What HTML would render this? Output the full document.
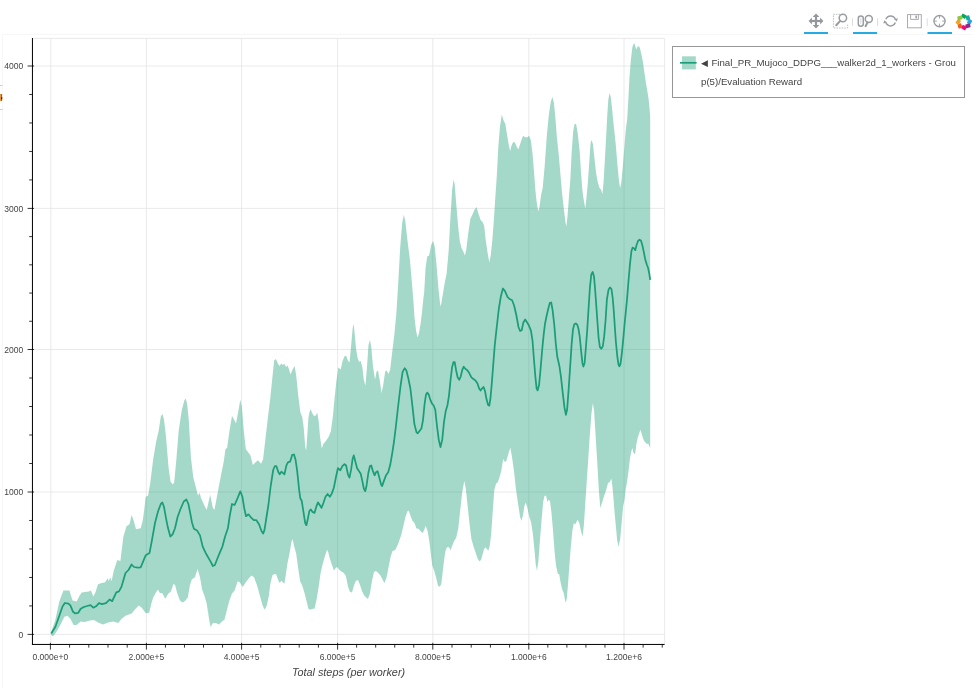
<!DOCTYPE html>
<html><head><meta charset="utf-8"><title>Evaluation Reward</title>
<style>
html,body{margin:0;padding:0;background:#fff;}
body{width:977px;height:688px;position:relative;overflow:hidden;font-family:"Liberation Sans",Arial,Helvetica,sans-serif;}
</style></head><body>
<svg width="977" height="688" viewBox="0 0 977 688" style="position:absolute;left:0;top:0;will-change:transform">
<path d="M50.80 38.4V644.4M146.40 38.4V644.4M241.60 38.4V644.4M337.60 38.4V644.4M432.80 38.4V644.4M528.80 38.4V644.4M624.00 38.4V644.4M32.4 634.40H664.6M32.4 492.00H664.6M32.4 349.50H664.6M32.4 208.40H664.6M32.4 66.00H664.6" stroke="#e5e5e5" stroke-width="0.8" fill="none"/>
<path d="M2.4 688V34.4H972" stroke="#f6f6f6" stroke-width="1" fill="none"/>
<polygon points="51.2,632.0 55.3,620.0 59.3,601.6 63.4,590.4 69.5,590.4 70.9,595.5 72.6,600.6 76.6,601.6 79.7,595.5 81.7,592.4 88.8,591.4 90.9,590.4 93.3,596.5 95.4,592.4 98.0,584.3 101.0,583.3 105.1,582.2 107.8,578.2 108.8,581.2 110.2,577.2 111.6,581.2 113.7,571.0 117.3,559.9 120.4,560.9 123.4,536.5 126.5,526.3 129.5,524.2 131.6,515.1 133.6,520.2 136.0,529.3 140.7,528.3 142.8,520.2 144.2,510.0 145.7,496.8 148.1,495.8 150.2,483.6 153.2,459.2 156.3,440.9 158.7,430.7 160.8,416.5 162.4,414.0 164.0,419.5 166.0,436.8 168.5,467.3 170.5,481.6 172.6,484.6 174.2,482.6 176.2,461.2 178.7,430.7 181.7,410.4 184.4,400.2 185.8,398.5 187.2,404.2 188.8,420.5 190.9,457.2 193.3,477.5 196.0,487.7 198.0,495.8 199.6,492.8 201.0,497.9 204.1,505.0 206.7,510.1 208.8,500.9 210.2,494.8 211.6,501.9 212.9,508.0 214.5,509.7 216.3,499.9 219.4,483.6 221.4,473.4 223.8,461.2 225.5,449.0 227.1,448.0 229.5,430.7 232.0,416.0 234.0,419.5 236.0,423.6 238.1,412.4 240.3,399.8 241.8,406.3 243.8,430.7 245.8,449.0 247.9,452.1 250.3,455.1 252.9,464.9 255.6,462.2 258.0,460.2 261.1,463.7 263.1,459.2 265.2,440.9 267.8,418.5 270.2,399.0 272.6,375.6 274.2,360.4 275.9,359.0 277.9,363.4 279.3,365.9 281.4,363.4 282.8,365.1 284.4,363.8 286.0,367.1 287.5,365.5 289.1,369.5 290.5,374.6 292.6,369.5 294.6,365.9 296.2,375.6 298.3,396.0 300.3,412.0 302.3,417.3 303.8,428.5 305.2,446.8 306.2,450.5 307.2,436.6 308.4,418.0 309.4,412.3 310.7,409.2 312.5,413.8 314.2,416.3 316.0,415.3 317.2,412.5 318.6,420.4 320.0,436.6 321.7,448.4 323.5,443.8 326.1,440.7 328.8,436.6 330.8,431.5 332.9,416.3 334.3,401.0 336.3,381.8 338.3,367.5 340.8,369.5 342.4,361.4 344.5,356.3 346.1,355.7 347.9,360.4 349.5,362.4 351.2,345.1 352.6,328.8 353.6,323.8 354.6,332.9 356.1,349.2 357.7,358.3 359.1,361.8 360.7,361.0 362.4,367.5 363.8,379.7 365.4,385.8 366.8,369.5 368.5,345.1 369.9,340.0 371.3,347.2 372.9,365.5 375.0,379.7 376.6,371.6 378.0,370.6 379.7,379.7 381.5,392.9 383.1,385.8 385.2,371.6 386.6,370.6 388.6,374.0 390.2,369.5 392.3,351.2 394.3,334.9 396.3,314.0 398.2,284.0 400.2,247.3 402.2,222.9 403.8,214.8 405.3,220.9 407.3,239.2 409.9,259.5 412.0,284.0 413.5,302.0 414.4,316.3 416.0,330.5 417.5,337.6 418.9,333.6 420.5,324.4 422.2,310.2 423.2,300.0 424.2,292.1 425.6,267.7 427.2,256.5 429.1,255.5 431.1,245.3 433.1,240.8 434.8,247.3 436.4,263.6 438.4,288.0 439.9,302.3 440.7,306.7 442.5,296.2 444.5,284.0 446.6,273.8 448.6,251.4 450.6,214.8 452.1,190.4 453.5,179.8 454.7,184.2 456.1,202.6 458.2,227.0 459.8,241.2 461.6,248.3 463.3,251.4 464.9,255.5 466.3,249.4 468.3,233.1 470.4,218.8 472.4,214.8 474.5,209.7 476.5,207.0 478.5,213.8 480.6,219.9 482.6,221.9 484.2,226.0 485.6,239.2 487.7,253.4 489.3,262.6 490.7,255.5 492.4,239.2 493.8,220.9 495.4,196.5 496.8,176.1 498.3,147.5 499.9,127.2 501.8,114.5 503.4,120.0 505.4,124.1 507.1,135.3 508.9,145.5 510.1,151.2 511.5,145.5 513.2,142.0 515.0,142.4 516.6,146.5 518.3,149.5 519.7,145.5 521.3,140.4 523.1,135.7 525.2,137.3 527.2,137.3 529.2,135.7 530.9,140.4 532.5,153.6 533.9,169.9 535.4,190.2 536.4,200.0 537.2,206.0 538.4,211.4 539.6,206.3 541.1,195.0 542.7,188.0 544.7,165.8 546.7,137.3 548.8,114.9 550.8,101.7 552.4,97.0 553.9,102.7 555.3,117.0 556.9,137.3 558.8,155.6 560.4,174.0 561.8,190.2 562.8,200.0 564.0,210.3 565.5,222.6 566.3,226.6 567.5,216.5 568.7,200.2 569.5,190.0 570.2,182.1 571.6,153.6 573.2,131.2 574.6,124.1 576.1,124.1 577.7,133.3 579.7,151.6 581.1,174.0 582.4,190.2 583.4,198.0 584.2,202.2 585.2,208.7 586.2,200.2 587.2,190.0 587.9,182.1 589.3,161.8 590.5,143.4 591.5,140.0 592.9,144.0 594.4,157.7 596.0,172.5 597.6,181.5 599.5,187.9 601.0,189.5 602.4,194.0 603.5,183.0 604.8,161.0 606.3,134.0 607.2,116.4 608.3,100.0 609.5,93.1 610.8,97.0 612.3,111.0 613.5,124.0 614.4,131.6 615.9,146.2 617.3,163.6 618.8,179.6 620.1,188.3 621.3,182.5 622.7,168.0 624.2,149.1 625.6,131.6 626.5,124.0 627.2,119.3 628.3,100.4 629.4,78.6 630.9,59.7 632.3,47.4 633.5,44.0 634.5,43.4 635.2,45.9 636.3,49.5 637.4,46.9 638.6,45.9 639.9,48.1 641.3,53.9 642.8,61.2 644.2,71.3 645.7,81.5 647.2,90.2 648.6,99.0 649.5,107.7 650.2,116.4 650.2,448.0 649.2,445.8 648.1,443.6 647.1,444.0 646.0,442.9 644.5,441.4 643.1,438.5 641.6,433.4 640.4,429.8 639.1,433.4 637.7,437.8 636.5,443.6 635.3,453.1 634.3,454.1 633.3,452.3 632.4,448.0 631.4,450.9 630.0,458.1 628.5,471.2 627.1,481.4 625.6,490.1 624.4,500.5 623.1,506.0 621.7,522.2 620.2,538.7 618.6,546.8 617.2,540.5 615.8,525.5 614.7,514.0 613.7,501.0 612.6,488.0 611.4,478.5 609.8,482.0 608.0,483.0 606.0,490.5 604.0,496.2 601.9,503.0 600.3,508.0 598.9,491.0 597.7,470.0 596.6,451.5 595.4,432.0 594.1,411.0 592.9,403.0 591.5,413.0 589.7,436.6 587.7,467.2 585.6,498.5 584.8,511.0 583.8,526.0 582.6,536.5 581.1,531.5 579.3,523.0 577.5,519.5 575.5,524.2 573.8,523.2 572.4,530.4 571.0,544.8 569.4,565.1 567.9,585.5 566.9,597.7 565.9,602.8 564.9,599.7 563.9,593.6 562.2,589.5 560.6,582.4 559.2,574.3 557.8,573.7 556.1,566.1 554.7,552.9 553.1,531.5 551.5,513.0 550.0,501.0 548.6,499.7 547.5,502.0 546.0,495.6 544.5,496.0 543.2,501.8 541.5,521.0 539.9,540.5 538.4,561.0 537.0,570.8 535.8,565.1 534.4,549.0 532.7,532.5 531.1,522.2 529.1,516.0 527.2,507.0 525.8,502.7 524.6,505.0 523.0,515.0 521.5,520.8 520.1,517.0 518.1,504.0 516.0,489.5 514.0,471.2 512.0,457.0 510.3,447.4 508.3,453.9 506.3,461.0 504.9,462.1 503.2,459.0 501.2,471.2 499.2,478.3 497.7,482.2 496.1,483.6 494.3,490.0 492.8,510.5 491.1,534.9 489.7,546.1 488.3,550.8 487.1,549.2 485.6,547.2 484.0,549.2 482.6,554.3 481.2,559.4 479.5,561.4 477.5,558.3 475.5,552.2 473.4,546.1 471.4,539.0 469.4,522.7 467.3,502.4 465.7,488.1 464.3,481.0 462.2,492.2 460.2,510.5 458.2,528.8 456.1,538.0 454.1,541.0 452.1,546.1 450.6,550.2 449.0,547.2 447.0,547.2 445.4,551.2 443.9,561.4 442.5,573.6 441.3,583.8 439.9,586.8 438.0,585.8 436.4,578.7 434.4,571.6 432.3,565.5 430.7,553.3 429.3,541.0 427.6,530.9 425.6,525.8 424.2,529.9 422.6,532.9 420.5,530.9 418.5,528.8 416.5,528.4 414.4,522.7 412.4,520.7 410.4,515.6 408.7,510.5 407.3,511.5 405.3,517.6 403.2,526.8 401.2,534.9 398.1,544.1 395.2,550.0 392.5,551.0 390.6,556.8 388.6,567.0 386.6,577.2 384.5,582.9 382.1,578.8 380.1,575.1 378.0,572.7 376.0,571.0 374.0,572.1 371.9,581.2 369.9,593.4 367.9,598.9 366.2,597.5 364.2,595.5 362.2,591.4 360.1,585.3 358.1,580.2 356.1,580.6 354.0,585.3 352.0,592.4 349.9,591.8 347.9,586.3 345.9,576.1 343.8,573.1 341.4,571.5 339.4,570.0 337.3,567.0 335.7,568.0 333.9,570.4 331.6,563.9 329.6,557.8 327.8,550.3 326.7,550.7 324.7,556.8 322.7,563.9 320.6,573.1 318.6,587.3 316.6,599.5 314.5,608.7 312.5,608.7 310.5,609.7 308.4,608.7 306.4,600.6 304.4,592.4 302.1,585.3 300.1,581.2 298.3,569.0 296.2,553.8 294.2,546.6 292.6,539.1 291.5,541.5 289.5,553.8 287.5,562.9 285.8,575.1 284.4,583.7 282.8,582.2 281.4,580.8 279.5,583.0 278.0,579.5 276.0,574.0 274.5,574.2 272.5,575.0 270.4,583.5 268.8,596.0 266.8,605.5 264.6,609.7 262.6,605.6 260.1,596.5 257.0,585.3 254.0,577.2 251.5,575.5 248.9,578.2 245.8,582.2 242.8,586.9 239.7,582.2 237.7,581.2 234.6,590.4 232.0,593.4 229.1,601.6 226.5,611.8 224.5,619.5 221.4,621.9 219.0,624.4 215.7,622.9 212.9,622.9 210.6,627.0 209.2,619.9 206.7,603.6 204.7,596.5 202.1,589.4 200.0,577.2 197.6,569.0 194.9,577.2 191.9,579.2 189.9,585.3 187.8,597.5 184.8,601.2 182.3,602.6 179.8,600.2 177.0,592.5 175.2,585.3 173.5,583.7 170.9,591.4 168.4,593.4 165.2,598.8 162.4,593.2 159.9,593.0 157.9,589.6 155.9,592.4 153.2,597.5 151.5,603.0 149.2,612.8 145.8,613.2 141.8,607.7 138.7,605.6 135.6,608.7 131.6,613.4 125.5,615.8 121.4,618.9 118.3,622.9 113.3,621.5 108.2,622.5 103.1,624.6 99.0,622.9 93.9,619.9 89.9,620.5 84.8,621.9 80.7,621.5 76.6,625.0 73.6,625.0 70.5,618.9 67.5,615.8 64.4,616.8 60.3,625.0 56.3,632.1 53.2,636.2 51.2,635.2" fill="#1b9e77" fill-opacity="0.4"/>
<polyline points="51.2,633.5 55.3,627.0 59.3,615.8 62.4,606.7 64.8,603.0 68.5,603.6 70.5,605.6 73.0,611.8 75.0,613.4 78.3,612.8 80.7,608.7 83.8,607.0 87.2,606.0 90.5,605.2 93.3,607.7 96.0,606.3 99.0,603.2 102.0,604.2 106.0,603.2 109.6,599.5 112.2,601.2 116.3,592.4 119.0,591.4 121.4,586.9 125.5,573.0 128.5,570.0 131.6,564.5 134.0,567.0 137.7,567.6 140.7,567.4 143.8,559.9 145.8,555.2 149.5,553.1 151.9,540.5 155.0,523.0 158.0,511.5 160.8,504.0 162.4,502.5 164.0,507.0 166.0,518.2 167.8,527.3 170.3,536.5 172.6,534.4 175.0,528.3 177.6,517.0 180.5,509.0 183.8,501.5 186.4,499.5 188.4,504.0 190.2,513.0 191.9,522.2 193.9,528.7 197.0,530.4 200.0,535.4 202.7,546.6 206.1,553.8 210.2,560.9 212.9,566.0 214.9,565.0 217.3,558.8 219.8,552.7 222.4,546.6 225.1,536.5 227.9,528.3 229.7,516.0 232.0,504.0 234.6,505.0 237.7,497.9 240.3,491.3 242.4,496.8 244.2,508.0 246.0,516.2 248.5,514.3 251.2,517.7 253.8,520.2 256.4,520.2 259.0,524.2 261.5,531.0 263.1,533.6 264.4,530.3 266.2,519.0 268.4,505.0 270.7,486.0 273.2,470.0 274.9,466.0 276.3,466.0 278.3,472.0 279.7,474.3 281.4,471.6 284.4,474.3 286.5,465.1 288.1,462.1 290.1,461.7 292.2,454.9 294.0,454.5 295.6,460.0 297.2,471.2 299.1,489.5 300.3,498.3 301.7,500.7 303.3,510.9 305.2,523.1 306.4,525.2 307.8,519.0 309.4,510.9 310.9,509.5 312.5,511.9 314.5,512.9 316.6,505.8 318.0,502.4 319.6,504.8 321.5,507.9 323.5,502.8 325.5,496.7 327.6,494.0 329.8,496.7 331.8,493.6 333.9,487.5 335.9,477.3 337.9,468.2 340.4,470.2 342.4,466.1 344.5,464.1 346.1,465.5 347.9,474.3 349.5,477.7 351.2,469.2 352.6,459.0 353.8,455.4 355.2,461.0 357.1,468.2 359.1,471.2 360.7,473.7 362.4,481.4 363.8,488.5 365.2,491.2 366.4,486.5 368.3,473.3 369.9,466.1 371.3,465.5 372.9,471.2 374.6,475.3 376.0,472.2 377.6,471.2 379.5,478.3 381.1,484.5 382.1,486.1 384.1,480.4 386.2,474.9 388.2,472.2 390.2,465.1 392.3,452.9 394.1,441.0 395.8,427.0 398.1,406.5 400.6,385.5 402.6,372.2 404.7,368.2 406.3,370.2 408.3,378.3 410.4,388.5 412.4,405.8 414.4,424.1 416.5,432.3 417.8,433.3 420.1,430.2 421.5,428.2 423.0,420.1 424.6,403.8 426.0,394.6 427.2,392.6 428.7,394.6 430.3,399.7 432.1,403.8 433.8,405.8 435.3,410.0 437.0,426.2 438.8,440.1 440.5,447.1 442.3,439.2 444.0,421.8 445.7,411.3 447.5,405.0 449.0,395.6 450.6,379.4 452.1,367.2 453.5,362.1 454.7,362.1 456.1,370.2 457.6,377.3 459.2,379.8 460.8,376.3 462.2,370.2 463.7,366.7 465.3,368.8 467.3,370.2 469.4,373.3 471.4,377.3 473.4,379.0 475.5,380.4 477.5,383.4 479.1,388.5 480.6,390.6 482.2,388.3 483.6,387.0 485.0,391.0 486.6,399.6 488.1,405.0 489.3,405.6 490.5,398.0 491.8,383.4 493.2,365.1 494.8,344.8 496.8,326.5 498.8,309.0 500.9,296.2 502.9,288.5 505.0,291.1 507.6,297.2 510.1,299.3 512.1,300.2 514.1,305.5 516.3,315.0 518.5,327.0 520.1,331.0 521.7,330.2 523.3,322.7 525.2,319.4 526.8,322.0 528.8,325.3 530.9,330.4 532.5,340.5 533.9,358.8 535.4,377.2 536.6,388.3 537.6,390.4 539.0,385.3 540.4,371.0 542.1,350.7 543.7,334.4 545.1,323.2 546.6,316.0 548.2,309.0 549.8,302.9 551.2,302.5 552.6,310.1 554.3,325.0 555.7,342.6 557.3,356.8 559.4,366.0 561.0,377.2 562.8,393.4 564.5,407.7 565.9,414.8 567.1,409.7 568.5,391.4 570.0,369.0 571.6,344.6 573.0,329.3 574.3,324.2 575.8,323.4 577.3,324.8 578.5,329.0 579.7,336.5 581.1,350.7 582.4,362.9 583.4,366.6 584.6,362.9 585.8,348.7 587.2,330.4 588.4,311.0 589.9,287.7 591.3,274.5 592.7,272.0 594.0,276.5 595.0,288.0 596.1,303.0 597.3,320.0 598.6,338.0 599.9,347.1 601.3,348.8 602.8,346.3 604.2,336.2 605.6,320.0 606.9,299.5 608.5,289.8 610.0,287.4 611.5,289.3 612.7,298.0 613.8,311.0 614.9,328.0 615.9,342.0 617.3,356.5 618.5,364.5 619.4,366.3 620.5,363.8 622.0,352.2 623.4,337.6 624.8,321.5 625.8,312.0 627.1,298.5 628.5,281.0 630.0,263.6 631.4,251.3 632.6,247.6 633.9,248.3 635.3,250.2 636.5,245.2 638.0,241.0 639.5,239.7 640.9,240.5 642.3,245.0 643.8,252.0 645.2,259.2 646.7,264.3 648.1,268.0 649.3,273.8 650.2,279.8" fill="none" stroke="#1b9e77" stroke-width="1.75" stroke-linejoin="round" stroke-linecap="butt"/>
<path d="M32.4 38.4H664.6V644.4" stroke="#e5e5e5" stroke-width="0.8" fill="none"/>
<path d="M32.449999999999996 38.0V644.9M31.95 644.4499999999999H664.6" stroke="#000" stroke-width="1" fill="none"/>
<path d="M50.40 642.8V649.6M69.60 644.4V647.6M88.80 644.4V647.6M108.00 644.4V647.6M127.20 644.4V647.6M146.40 642.8V649.6M165.44 644.4V647.6M184.48 644.4V647.6M203.52 644.4V647.6M222.56 644.4V647.6M241.60 642.8V649.6M260.80 644.4V647.6M280.00 644.4V647.6M299.20 644.4V647.6M318.40 644.4V647.6M337.60 642.8V649.6M356.64 644.4V647.6M375.68 644.4V647.6M394.72 644.4V647.6M413.76 644.4V647.6M432.80 642.8V649.6M452.00 644.4V647.6M471.20 644.4V647.6M490.40 644.4V647.6M509.60 644.4V647.6M528.80 642.8V649.6M547.84 644.4V647.6M566.88 644.4V647.6M585.92 644.4V647.6M604.96 644.4V647.6M624.00 642.8V649.6M643.12 644.4V647.6M662.24 644.4V647.6M27.599999999999998 634.40H34.0M29.2 605.92H32.4M29.2 577.44H32.4M29.2 548.96H32.4M29.2 520.48H32.4M27.599999999999998 492.00H34.0M29.2 463.50H32.4M29.2 435.00H32.4M29.2 406.50H32.4M29.2 378.00H32.4M27.599999999999998 349.50H34.0M29.2 321.28H32.4M29.2 293.06H32.4M29.2 264.84H32.4M29.2 236.62H32.4M27.599999999999998 208.40H34.0M29.2 179.92H32.4M29.2 151.44H32.4M29.2 122.96H32.4M29.2 94.48H32.4M27.599999999999998 66.00H34.0" stroke="#000" stroke-width="0.8" fill="none"/>
<g font-family="Liberation Sans, Arial, Helvetica, sans-serif" font-size="8.53" fill="#444">
<text x="23.2" y="637.5" text-anchor="end">0</text>
<text x="23.2" y="495.1" text-anchor="end">1000</text>
<text x="23.2" y="352.6" text-anchor="end">2000</text>
<text x="23.2" y="211.5" text-anchor="end">3000</text>
<text x="23.2" y="69.1" text-anchor="end">4000</text>
<text x="50.4" y="660.2" text-anchor="middle">0.000e+0</text>
<text x="146.4" y="660.2" text-anchor="middle">2.000e+5</text>
<text x="241.6" y="660.2" text-anchor="middle">4.000e+5</text>
<text x="337.6" y="660.2" text-anchor="middle">6.000e+5</text>
<text x="432.8" y="660.2" text-anchor="middle">8.000e+5</text>
<text x="528.8" y="660.2" text-anchor="middle">1.000e+6</text>
<text x="624.0" y="660.2" text-anchor="middle">1.200e+6</text>
</g>
<text x="348.5" y="675.8" text-anchor="middle" font-family="Liberation Sans, Arial, Helvetica, sans-serif" font-size="10.82" font-style="italic" fill="#444">Total steps (per worker)</text>
<rect x="672.5" y="46.5" width="292" height="51" fill="#fff" fill-opacity="0.95" stroke="#969696" stroke-width="1"/>
<rect x="682" y="56.3" width="13.8" height="13.1" fill="#1b9e77" fill-opacity="0.4"/>
<path d="M680 62.8H696.6" stroke="#1b9e77" stroke-width="1.7"/>
<g font-family="Liberation Sans, DejaVu Sans, Arial, sans-serif" font-size="9.68" fill="#444">
<text x="701" y="66.2" font-size="9">◀</text>
<text x="711.4" y="65.8">Final_PR_Mujoco_DDPG___walker2d_1_workers - Grou</text>
<text x="701" y="84.7">p(5)/Evaluation Reward</text>
</g>
<path d="M0 85.5H2.6M0 109.5H2.6" stroke="#cfcfcf" stroke-width="1"/>
<rect x="0" y="94" width="1.2" height="7" fill="#e8943a"/><rect x="1.1" y="94" width="1" height="7" fill="#2a6fd6"/><rect x="1" y="97.5" width="1.3" height="1.6" fill="#111"/><rect x="2.1" y="97" width="0.9" height="2" fill="#f0b070"/>
<path d="M804 33H828M853 33H877M927.5 33H952" stroke="#26aae1" stroke-width="2"/><path d="M852.5 18.4V25.8M877.6 18.4V25.8M927.2 18.4V25.8" stroke="#dcdcdc" stroke-width="1"/><g fill="#94989c"><rect x="814.9" y="16.0" width="2.2" height="10"/><rect x="811.0" y="19.9" width="10" height="2.2"/><polygon points="816.0,13.6 812.6,16.9 819.4,16.9"/><polygon points="816.0,28.4 812.6,25.1 819.4,25.1"/><polygon points="808.6,21.0 811.9,17.6 811.9,24.4"/><polygon points="823.4,21.0 820.1,17.6 820.1,24.4"/></g><path d="M840 14.3H833.4V28H847.7V23.6" fill="none" stroke="#b3b6b9" stroke-width="0.9" stroke-dasharray="1.5 1.1"/><circle cx="842.9" cy="18" r="3.7" fill="none" stroke="#999da1" stroke-width="1.5"/><path d="M840.2 20.9L836.2 25.2" stroke="#999da1" stroke-width="2" stroke-linecap="round"/><rect x="858.3" y="16" width="5" height="10.2" rx="2.5" fill="none" stroke="#999da1" stroke-width="1.5"/><path d="M860.8 18.6V23.6" stroke="#b5b8bb" stroke-width="1" stroke-dasharray="1.2 0.8"/><circle cx="868.8" cy="18.9" r="3.5" fill="none" stroke="#999da1" stroke-width="1.5"/><path d="M867.6 22.3L865.6 26.2" stroke="#999da1" stroke-width="2" stroke-linecap="round"/><g fill="none" stroke="#999da1" stroke-width="1.5"><path d="M885.90 19.19A5.0 5.0 0 0 1 895.30 19.19"/><path d="M895.30 22.61A5.0 5.0 0 0 1 885.90 22.61"/></g><polygon points="897.9,18.2 894.2,19.2 896.8,21.6" fill="#999da1"/><polygon points="883.3,23.4 887,22.6 884.4,20.2" fill="#999da1"/><g fill="none" stroke="#a9acb0" stroke-width="1"><rect x="907.5" y="14.6" width="13.8" height="13.2"/><path d="M910.6 14.6V19.4H918.4V14.6"/></g><rect x="915.4" y="15.6" width="1.5" height="2.8" fill="#999da1"/><g fill="none" stroke="#999da1" stroke-width="1.4"><circle cx="939.5" cy="21.1" r="5.6"/><path d="M939.5 15.500000000000002V18.5M939.5 26.700000000000003V23.700000000000003M933.9 21.1H936.9M945.1 21.1H942.1" stroke-width="0.9"/></g><rect x="-2.4" y="-1.9" width="4.8" height="3.9" rx="0.6" fill="#0fa651" transform="translate(963.9 21.9) rotate(0) translate(0 -5.7) rotate(30)"/><rect x="-2.4" y="-1.9" width="4.8" height="3.9" rx="0.6" fill="#1aa9a0" transform="translate(963.9 21.9) rotate(45) translate(0 -5.7) rotate(30)"/><rect x="-2.4" y="-1.9" width="4.8" height="3.9" rx="0.6" fill="#2aa3e0" transform="translate(963.9 21.9) rotate(90) translate(0 -5.7) rotate(30)"/><rect x="-2.4" y="-1.9" width="4.8" height="3.9" rx="0.6" fill="#93278f" transform="translate(963.9 21.9) rotate(135) translate(0 -5.7) rotate(30)"/><rect x="-2.4" y="-1.9" width="4.8" height="3.9" rx="0.6" fill="#ee0b76" transform="translate(963.9 21.9) rotate(180) translate(0 -5.7) rotate(30)"/><rect x="-2.4" y="-1.9" width="4.8" height="3.9" rx="0.6" fill="#f15a24" transform="translate(963.9 21.9) rotate(225) translate(0 -5.7) rotate(30)"/><rect x="-2.4" y="-1.9" width="4.8" height="3.9" rx="0.6" fill="#f9a11b" transform="translate(963.9 21.9) rotate(270) translate(0 -5.7) rotate(30)"/><rect x="-2.4" y="-1.9" width="4.8" height="3.9" rx="0.6" fill="#8dc63f" transform="translate(963.9 21.9) rotate(315) translate(0 -5.7) rotate(30)"/>
</svg>
</body></html>
